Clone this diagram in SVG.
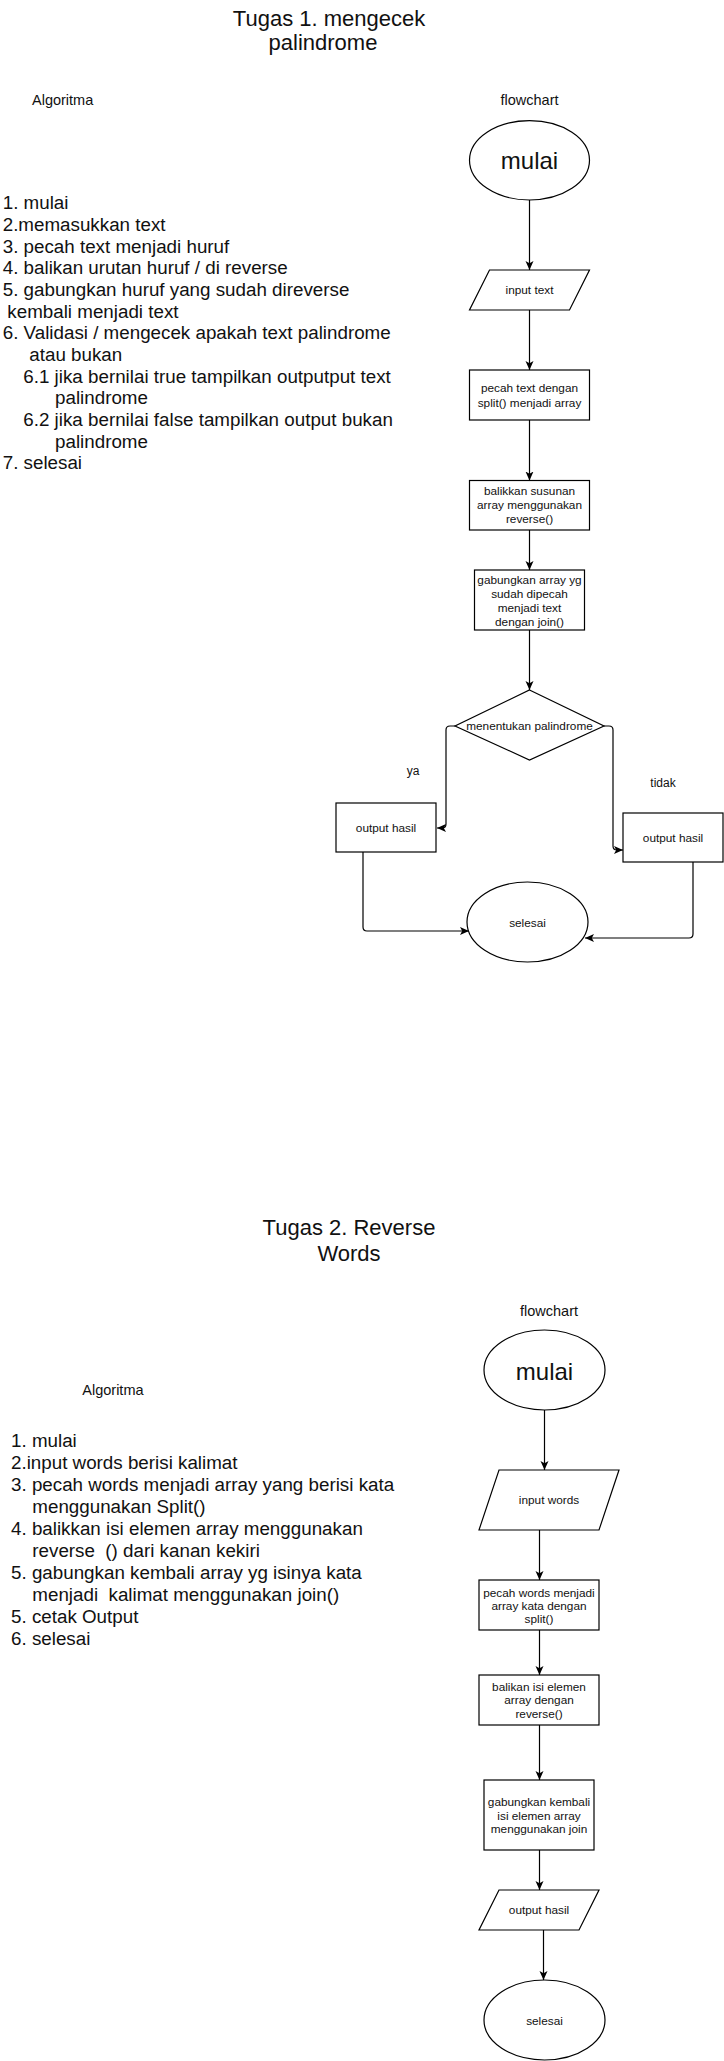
<svg xmlns="http://www.w3.org/2000/svg" width="724" height="2061" viewBox="0 0 724 2061">
<style>
text{font-family:"Liberation Sans",Arial,sans-serif;fill:#111}
.title{font-size:22px;text-anchor:middle}
.lbl{font-size:14.5px}
.list{font-size:18.8px}
.n{font-size:11.8px;text-anchor:middle}
.big{font-size:24px;text-anchor:middle}
.shape{fill:#fff;stroke:#000;stroke-width:1.2}
.edge{fill:none;stroke:#000;stroke-width:1.2;marker-end:url(#arr)}
</style>
<defs>
<marker id="arr" markerUnits="userSpaceOnUse" markerWidth="12" markerHeight="10" refX="9" refY="4" orient="auto">
<path d="M0,0 L9,4 L0,8 L2.2,4 Z" fill="#000"/>
</marker>
</defs>
<rect width="724" height="2061" fill="#fff"/>

<g id="section1-text">
<text class="title" x="329" y="26">Tugas 1. mengecek</text>
<text class="title" x="323" y="50">palindrome</text>
<text class="lbl" x="32" y="105">Algoritma</text>
<text class="lbl" x="529.5" y="105" text-anchor="middle">flowchart</text>
<text class="list" x="2.7" y="209.3">1. mulai</text>
<text class="list" x="2.7" y="231">2.memasukkan text</text>
<text class="list" x="2.7" y="252.7">3. pecah text menjadi huruf</text>
<text class="list" x="2.7" y="274.3">4. balikan urutan huruf / di reverse</text>
<text class="list" x="2.7" y="296">5. gabungkan huruf yang sudah direverse</text>
<text class="list" x="7.3" y="317.7">kembali menjadi text</text>
<text class="list" x="2.7" y="339.3">6. Validasi / mengecek apakah text palindrome</text>
<text class="list" x="29.3" y="361">atau bukan</text>
<text class="list" x="23.3" y="382.7">6.1 jika bernilai true tampilkan outputput text</text>
<text class="list" x="55" y="404.3">palindrome</text>
<text class="list" x="23.3" y="426">6.2 jika bernilai false tampilkan output bukan</text>
<text class="list" x="55" y="447.7">palindrome</text>
<text class="list" x="2.7" y="469.3">7. selesai</text>
<text class="n" x="413" y="775" style="font-size:12px">ya</text>
<text class="n" x="663" y="787" style="font-size:12px">tidak</text>
</g>

<g id="edges1">
<path class="edge" d="M529.5,200 L529.5,270"/>
<path class="edge" d="M529.5,310 L529.5,370"/>
<path class="edge" d="M529.5,420 L529.5,480.5"/>
<path class="edge" d="M529.5,530 L529.5,570"/>
<path class="edge" d="M529.5,630 L529.5,690"/>
<path class="edge" d="M455,726 L450,726 Q446,726 446,730 L446,824 Q446,828 442,828 L437,828"/>
<path class="edge" d="M604,726 L609,726 Q613,726 613,730 L613,846 Q613,850 617,850 L623,850"/>
<path class="edge" d="M363,852 L363,927 Q363,931 367,931 L469,931"/>
<path class="edge" d="M693,862 L693,934 Q693,938 689,938 L585,938"/>
</g>

<g id="n1-mulai">
<ellipse class="shape" cx="529.5" cy="160.3" rx="60" ry="39.7"/>
<text class="big" x="529.5" y="169.3">mulai</text>
</g>
<g id="n1-input">
<polygon class="shape" points="489.5,270 589.5,270 569.5,310 469.5,310"/>
<text class="n" x="529.5" y="294.3">input text</text>
</g>
<g id="n1-split">
<rect class="shape" x="469.5" y="370" width="120" height="50"/>
<text class="n" x="529.5" y="392.3">pecah text dengan</text>
<text class="n" x="529.5" y="406.7">split() menjadi array</text>
</g>
<g id="n1-reverse">
<rect class="shape" x="469.5" y="480.5" width="120" height="49.5"/>
<text class="n" x="529.5" y="495">balikkan susunan</text>
<text class="n" x="529.5" y="509.3">array menggunakan</text>
<text class="n" x="529.5" y="523.3">reverse()</text>
</g>
<g id="n1-join">
<rect class="shape" x="474.5" y="570" width="110" height="60"/>
<text class="n" x="529.5" y="584">gabungkan array yg</text>
<text class="n" x="529.5" y="597.7">sudah dipecah</text>
<text class="n" x="529.5" y="611.7">menjadi text</text>
<text class="n" x="529.5" y="625.7">dengan join()</text>
</g>
<g id="n1-decision">
<polygon class="shape" points="529.5,690 604,726 529.5,760 455,726"/>
<text class="n" x="529.5" y="730">menentukan palindrome</text>
</g>
<g id="n1-out-ya">
<rect class="shape" x="336" y="803" width="100" height="49"/>
<text class="n" x="386" y="832">output hasil</text>
</g>
<g id="n1-out-tidak">
<rect class="shape" x="623" y="813" width="100" height="49"/>
<text class="n" x="673" y="842">output hasil</text>
</g>
<g id="n1-selesai">
<ellipse class="shape" cx="527.5" cy="922" rx="60.5" ry="40"/>
<text class="n" x="527.5" y="927">selesai</text>
</g>

<g id="section2-text">
<text class="title" x="349" y="1235">Tugas 2. Reverse</text>
<text class="title" x="349" y="1261">Words</text>
<text class="lbl" x="82.3" y="1395">Algoritma</text>
<text class="lbl" x="549" y="1315.7" text-anchor="middle">flowchart</text>
<text class="list" x="11" y="1447.3">1. mulai</text>
<text class="list" x="11" y="1469.3">2.input words berisi kalimat</text>
<text class="list" x="11" y="1491.2">3. pecah words menjadi array yang berisi kata</text>
<text class="list" x="32.3" y="1513.2">menggunakan Split()</text>
<text class="list" x="11" y="1535.2">4. balikkan isi elemen array menggunakan</text>
<text class="list" x="32.3" y="1557.1" xml:space="preserve">reverse  () dari kanan kekiri</text>
<text class="list" x="11" y="1579.1">5. gabungkan kembali array yg isinya kata</text>
<text class="list" x="32.3" y="1601.1" xml:space="preserve">menjadi  kalimat menggunakan join()</text>
<text class="list" x="11" y="1623">5. cetak Output</text>
<text class="list" x="11" y="1645">6. selesai</text>
</g>

<g id="edges2">
<path class="edge" d="M544.5,1410 L544.5,1470"/>
<path class="edge" d="M539.5,1530 L539.5,1580"/>
<path class="edge" d="M539.5,1630 L539.5,1675"/>
<path class="edge" d="M539.5,1725 L539.5,1780"/>
<path class="edge" d="M539.5,1850 L539.5,1890"/>
<path class="edge" d="M543.5,1930 L543.5,1980"/>
</g>

<g id="n2-mulai">
<ellipse class="shape" cx="544.5" cy="1370" rx="60.5" ry="40"/>
<text class="big" x="544.5" y="1380">mulai</text>
</g>
<g id="n2-input">
<polygon class="shape" points="499,1470 619,1470 599,1530 479,1530"/>
<text class="n" x="549" y="1504">input words</text>
</g>
<g id="n2-split">
<rect class="shape" x="479" y="1580" width="120" height="50"/>
<text class="n" x="539" y="1596.7">pecah words menjadi</text>
<text class="n" x="539" y="1610">array kata dengan</text>
<text class="n" x="539" y="1623.3">split()</text>
</g>
<g id="n2-reverse">
<rect class="shape" x="479" y="1675" width="120" height="50"/>
<text class="n" x="539" y="1691">balikan isi elemen</text>
<text class="n" x="539" y="1704.3">array dengan</text>
<text class="n" x="539" y="1717.6">reverse()</text>
</g>
<g id="n2-join">
<rect class="shape" x="484" y="1780" width="110" height="70"/>
<text class="n" x="539" y="1806">gabungkan kembali</text>
<text class="n" x="539" y="1820">isi elemen array</text>
<text class="n" x="539" y="1833.3">menggunakan join</text>
</g>
<g id="n2-output">
<polygon class="shape" points="499,1890 599,1890 579,1930 479,1930"/>
<text class="n" x="539" y="1914.3">output hasil</text>
</g>
<g id="n2-selesai">
<ellipse class="shape" cx="544.5" cy="2020" rx="60.5" ry="40"/>
<text class="n" x="544.5" y="2025">selesai</text>
</g>
</svg>
